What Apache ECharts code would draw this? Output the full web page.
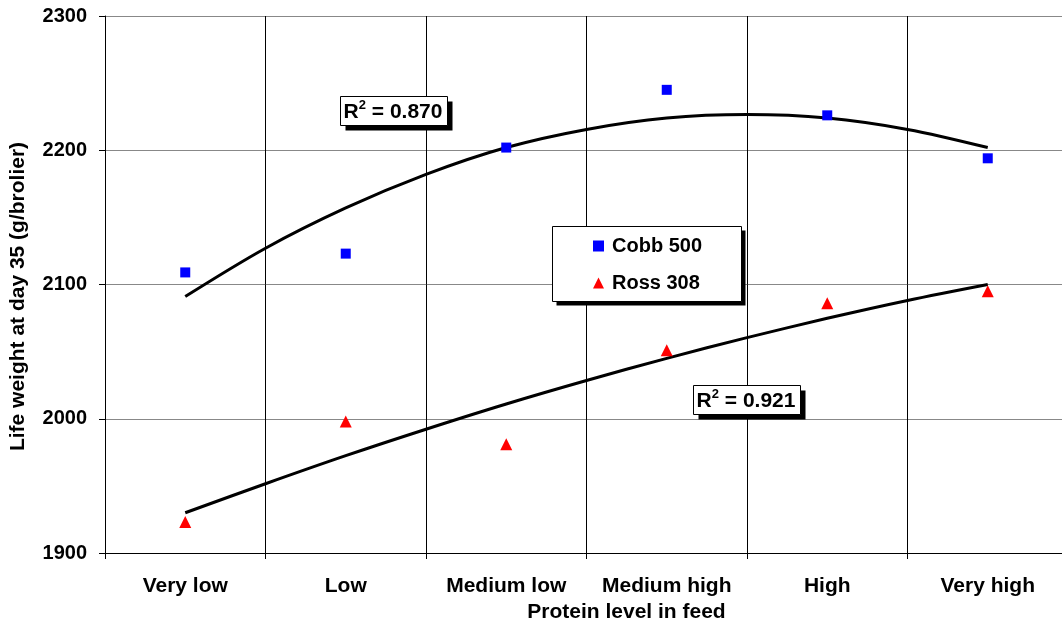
<!DOCTYPE html>
<html>
<head>
<meta charset="utf-8">
<script src="https://cdn.jsdelivr.net/npm/echarts@6/dist/echarts.min.js"></script>
<style>html,body{margin:0;padding:0;background:#fff;}#c{width:1062px;height:626px;}</style>
</head>
<body>
<div id="c"></div>
<script>
const categories = ['Very low', 'Low', 'Medium low', 'Medium high', 'High', 'Very high'];
const cobb500 = [2109, 2123, 2202, 2245, 2226, 2194];
const ross308 = [1923, 1998, 1981, 2051, 2086, 2095];
// trendline curves at every half category (1 = first category)
const trendX = [1, 1.5, 2, 2.5, 3, 3.5, 4, 4.5, 5, 5.5, 6];
const cobbTrend = [2091, 2127, 2157, 2182, 2202, 2215.5, 2224, 2226.6, 2224, 2215.5, 2202];
const rossTrend = [1930, 1951.6, 1972.5, 1992.2, 2011, 2028.5, 2045, 2060.4, 2074.8, 2088.1, 2100];
const yTicks = [1900, 2000, 2100, 2200, 2300];
const r2Cobb = '0.870';
const r2Ross = '0.921';

const font = 'Liberation Sans, Arial, sans-serif';
const chart = echarts.init(document.getElementById('c'), null, {renderer: 'canvas'});

function boxWithShadow(x, y, w, h, off) {
  return [
    {type: 'rect', z: 5, shape: {x: x + off, y: y + off, width: w, height: h}, style: {fill: '#000'}},
    {type: 'rect', z: 6, shape: {x: x, y: y, width: w, height: h}, style: {fill: '#fff', stroke: '#000', lineWidth: 1}}
  ];
}

function r2Text(cx, cy, val) {
  return {type: 'text', z: 7, x: cx, y: cy, style: {
    text: '{a|R}{s|2}{a| = ' + val + '}',
    align: 'center', verticalAlign: 'middle',
    rich: {
      a: {fontFamily: font, fontWeight: 'bold', fontSize: 21, fill: '#000', lineHeight: 24, verticalAlign: 'bottom'},
      s: {fontFamily: font, fontWeight: 'bold', fontSize: 13, fill: '#000', lineHeight: 24, verticalAlign: 'top'}
    }
  }};
}

const graphics = []
  .concat(boxWithShadow(340.5, 96.5, 107, 29, 5))
  .concat([r2Text(393, 111, r2Cobb)])
  .concat(boxWithShadow(693.5, 385.5, 107, 29, 5))
  .concat([r2Text(746, 400, r2Ross)])
  .concat(boxWithShadow(552.5, 226.5, 189, 75, 4));

function pairs(xs, ys) { return xs.map(function (x, i) { return [x, ys[i]]; }); }

chart.setOption({
  animation: false,
  backgroundColor: '#fff',
  grid: {left: 105, top: 16, width: 963, height: 537, containLabel: false, outerBoundsMode: 'none'},
  legend: {
    data: [{name: 'Cobb 500', icon: 'rect'}, {name: 'Ross 308', icon: 'triangle'}],
    orient: 'vertical',
    left: 593, top: 236,
    padding: 0,
    itemGap: 17,
    itemWidth: 11, itemHeight: 11,
    z: 10,
    textStyle: {fontFamily: font, fontWeight: 'bold', fontSize: 20, color: '#000', lineHeight: 20, padding: [0, 0, 0, 3]}
  },
  xAxis: [{
    type: 'category',
    data: categories,
    boundaryGap: true,
    name: 'Protein level in feed',
    nameLocation: 'middle',
    nameGap: 49,
    nameTextStyle: {fontFamily: font, fontWeight: 'bold', fontSize: 21, color: '#000', padding: [0, 0, 0, 80]},
    axisLine: {lineStyle: {color: '#000', width: 1}},
    axisTick: {show: true, length: 6, alignWithLabel: false, lineStyle: {color: '#000'}},
    axisLabel: {fontFamily: font, fontWeight: 'bold', fontSize: 21, color: '#000', margin: 23, interval: 0},
    splitLine: {show: true, lineStyle: {color: '#000', width: 1}}
  }, {
    type: 'value', min: 0.5, max: 6.5, show: false,
    axisLine: {show: false}, axisTick: {show: false}, axisLabel: {show: false}, splitLine: {show: false}
  }],
  yAxis: {
    type: 'value',
    min: yTicks[0], max: yTicks[yTicks.length - 1], interval: 100,
    name: 'Life weight at day 35 (g/brolier)',
    nameLocation: 'middle',
    nameGap: 76,
    nameRotate: 90,
    nameTextStyle: {fontFamily: font, fontWeight: 'bold', fontSize: 21, color: '#000', padding: [0, 24, 0, 0]},
    axisLine: {show: true, lineStyle: {color: '#000', width: 1}},
    axisTick: {show: true, length: 6, lineStyle: {color: '#000'}},
    axisLabel: {fontFamily: font, fontWeight: 'bold', fontSize: 20, color: '#000', margin: 18,
      formatter: function (v) { return String(v); }},
    splitLine: {show: true, lineStyle: {color: '#888', width: 1}}
  },
  series: [
    {name: 'Cobb trend', type: 'line', xAxisIndex: 1, data: pairs(trendX, cobbTrend), smooth: 0.333,
     showSymbol: false, symbol: 'none', lineStyle: {color: '#000', width: 3}, z: 2, silent: true},
    {name: 'Ross trend', type: 'line', xAxisIndex: 1, data: pairs(trendX, rossTrend), smooth: 0.333,
     showSymbol: false, symbol: 'none', lineStyle: {color: '#000', width: 3}, z: 2, silent: true},
    {name: 'Cobb 500', type: 'scatter', data: cobb500, symbol: 'rect', symbolSize: 10,
     itemStyle: {color: '#0000ff', opacity: 1}, z: 3},
    {name: 'Ross 308', type: 'scatter', data: ross308, symbol: 'triangle', symbolSize: 12,
     itemStyle: {color: '#ff0000', opacity: 1}, z: 3}
  ],
  graphic: graphics
});
</script>
</body>
</html>
